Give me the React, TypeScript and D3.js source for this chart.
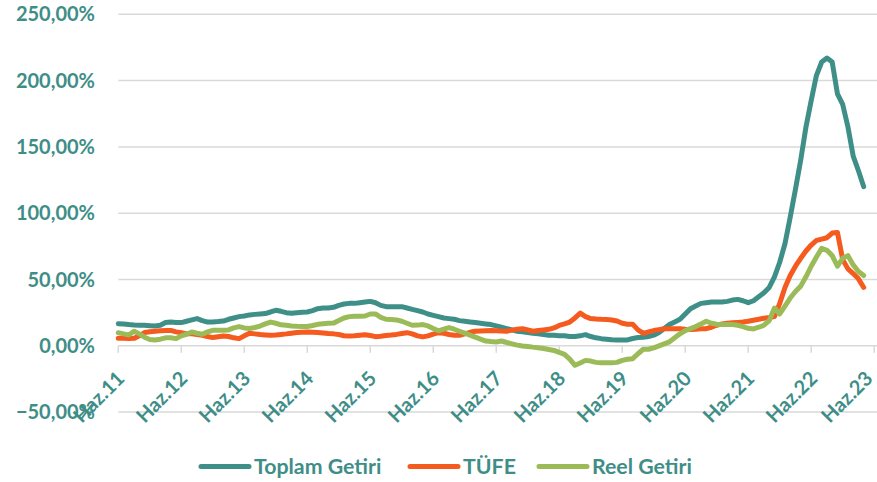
import React from "react";
import * as d3 from "d3";

const width = 877;
const height = 482;
const margin = { top: 14.3, right: 1.3, bottom: 69.7, left: 118.3 };

const tickLabels = [
  "Haz.11", "Haz.12", "Haz.13", "Haz.14", "Haz.15", "Haz.16", "Haz.17",
  "Haz.18", "Haz.19", "Haz.20", "Haz.21", "Haz.22", "Haz.23",
];
const monthsPerTick = 12;
const yTicks = [-50, 0, 50, 100, 150, 200, 250];

// aylik seriler, Haz.11 - Nis.23
const toplamGetiri = [
  16.7, 16.5, 16, 15.7, 15.5, 15.5, 15.2, 14.9, 15.5, 17.5,
  17.9, 17.5, 17.5, 18.5, 19.5, 20.5, 19, 17.9, 18, 18.3,
  18.7, 20, 21, 22, 22.5, 23.3, 23.7, 24, 24.3, 25.5,
  26.8, 26, 25, 24.5, 25, 25.3, 25.5, 26.5, 28, 28.5,
  28.5, 29, 30.5, 31.5, 32, 32, 32.5, 33, 33.5, 32.5,
  30.5, 29.5, 29.5, 29.5, 29.5, 28.5, 27.5, 26.5, 25.5, 24,
  23, 22, 21, 20.5, 20, 19, 18.5, 18, 17.5, 17,
  16.5, 16, 15, 14, 13, 12, 11, 10.5, 10, 9.5,
  9, 8.5, 8, 8, 7.5, 7.5, 7, 7, 7.5, 8.4,
  7, 6, 5.4, 5, 4.5, 4.4, 4.4, 4.4, 5.5, 6.2,
  6.5, 7, 8, 10, 13, 16, 18, 20, 24, 28,
  30, 32, 32.5, 33, 33, 33, 33.5, 34.5, 35, 34,
  32.5, 34, 37, 40, 44, 52, 63, 77, 97, 118,
  140, 165, 185, 204, 214, 217, 214, 190, 182, 165,
  143, 132, 120,
];
const tufe = [
  5.6, 5.6, 5.5, 5.6, 7.5, 10, 10.6, 11, 11.3, 11.5,
  11.6, 10.5, 9.9, 9, 9, 8.5, 7.9, 7, 6.2, 6.8,
  7.4, 7, 6, 5.4, 7.5, 9.4, 9, 8.5, 8.2, 7.9,
  8.2, 8.6, 9, 9.5, 10, 10.2, 10.4, 10.2, 10, 9.7,
  9.2, 9, 8.5, 7.6, 7.4, 7.6, 8, 8.4, 7.8, 6.9,
  7.2, 7.7, 8.1, 8.6, 9.3, 9.9, 9, 7.5, 6.7, 7.5,
  8.8, 9.9, 9.5, 8.5, 8, 7.9, 9, 10.2, 11, 11.2,
  11.4, 11.5, 11.3, 11.1, 11, 11.8, 12.5, 12.9, 12, 11,
  11.5, 12, 12.4, 13.5, 15.4, 16.5, 17.9, 21, 24.6, 22,
  20.5, 20.2, 20, 19.9, 19.5, 18.7, 17, 16.2, 16.2, 12,
  9.4, 10.5, 11.5, 12.2, 12.8, 12.9, 12.9, 12.9, 12.5, 12.2,
  12.5, 12.8, 12.9, 14, 15.5, 16.5, 17, 17.3, 17.6, 17.9,
  18.5, 19.3, 20, 20.8, 21.3, 22, 32, 44, 53, 60,
  66, 71.5, 76, 79.5, 80.5, 81.5, 85, 85.5, 65, 58,
  54.5, 50.5, 44,
];
const reelGetiri = [
  9.9, 9, 8.2, 11, 9, 6.5, 4.8, 4.4, 5, 6,
  6, 5.4, 7.5, 8.7, 10.4, 9.5, 8.7, 10.5, 11.7, 11.7,
  11.7, 12, 13.5, 14.5, 13.5, 13, 13.8, 14.9, 16.5, 17.9,
  17, 15.8, 15.5, 15, 14.7, 14.5, 14.6, 15.3, 16.2, 16.6,
  17, 17.1, 19, 21, 22, 22.2, 22.3, 22.5, 24, 24,
  21.5, 20, 19.8, 19.5, 18.5, 17, 15.5, 15.6, 16, 15,
  13, 11.3, 12.5, 13.8, 12.5, 11, 9.5, 8, 6.5, 5,
  3.6, 3.2, 2.9, 3.6, 2.5, 1.5, 0.5, -0.1, -0.5, -1,
  -1.4, -2, -2.8, -3.5, -5, -6.4, -10, -14.7, -13, -11,
  -11.5, -12.5, -12.7, -12.7, -12.7, -12.5, -11, -10.2, -9.7, -6,
  -2.6, -2.6, -1.5, 0, 1.5, 3, 6, 9, 11.5, 13,
  14.5, 16.5, 18.5, 17, 16.2, 16, 16, 16, 15.5, 14.5,
  13.2, 12.7, 14, 15.5, 19, 28.5, 24, 30, 36, 41,
  45, 52, 60, 67, 73.5, 72, 68, 60, 66, 68,
  61, 56, 53,
];

const seriesNames = ["Toplam Getiri", "TÜFE", "Reel Getiri"];
const seriesColors = ["#3E8F87", "#F55A1E", "#9BBB59"];
const seriesData = [toplamGetiri, tufe, reelGetiri];

const textColor = "#3E8E87";
const gridColor = "#D9D9D9";
const font = "Lato, 'Open Sans', sans-serif";

const fmt = (v: number) => d3.format(".2f")(v).replace(".", ",") + "%";

export default function App() {
  const x = d3
    .scaleLinear()
    .domain([0, (tickLabels.length - 1) * monthsPerTick])
    .range([margin.left, width - margin.right - 1.5]);
  const y = d3
    .scaleLinear()
    .domain([-50, 250])
    .range([height - margin.bottom - 0.2, margin.top]);

  const line = d3
    .line<number>()
    .x((d, i) => x(i))
    .y((d) => y(d));

  const legendX = [199, 408, 537];
  const legendY = 466.5;

  return (
    <div>
      <style>{"body{margin:0;}"}</style>
      <svg width={width} height={height} style={{ display: "block" }}>
        {/* grid */}
        {yTicks.map((t) => (
          <g key={t}>
            <line
              x1={margin.left}
              x2={width}
              y1={y(t)}
              y2={y(t)}
              stroke={gridColor}
              strokeWidth={1.5}
            />
            <text
              x={95}
              y={y(t)}
              dy="0.35em"
              textAnchor="end"
              fill={textColor}
              fontFamily={font}
              fontWeight={700}
              fontSize={20}
            >
              {fmt(t)}
            </text>
          </g>
        ))}
        {/* x ticks */}
        {tickLabels.map((lab, k) => {
          const tx = x(k * monthsPerTick);
          const lx = Math.min(tx + 7.5, width - 3);
          return (
            <g key={lab}>
              <line
                x1={tx}
                x2={tx}
                y1={y(0)}
                y2={y(0) + 7}
                stroke={gridColor}
                strokeWidth={1.5}
              />
              <text
                transform={`translate(${lx},${y(0) + 34}) rotate(-45)`}
                textAnchor="end"
                fill={textColor}
                fontFamily={font}
                fontWeight={700}
                fontSize={20}
              >
                {lab}
              </text>
            </g>
          );
        })}
        {/* series */}
        {seriesData.map((s, k) => (
          <path
            key={seriesNames[k]}
            d={line(s) || ""}
            fill="none"
            stroke={seriesColors[k]}
            strokeWidth={5}
            strokeLinejoin="round"
            strokeLinecap="round"
          />
        ))}
        {/* legend */}
        {seriesNames.map((name, k) => (
          <g key={name}>
            <line
              x1={legendX[k] + 2}
              x2={legendX[k] + 50}
              y1={legendY}
              y2={legendY}
              stroke={seriesColors[k]}
              strokeWidth={5}
              strokeLinecap="round"
            />
            <text
              x={legendX[k] + 55}
              y={legendY}
              dy="0.35em"
              fill={textColor}
              fontFamily={font}
              fontWeight={700}
              fontSize={21.3}
            >
              {name}
            </text>
          </g>
        ))}
      </svg>
    </div>
  );
}
